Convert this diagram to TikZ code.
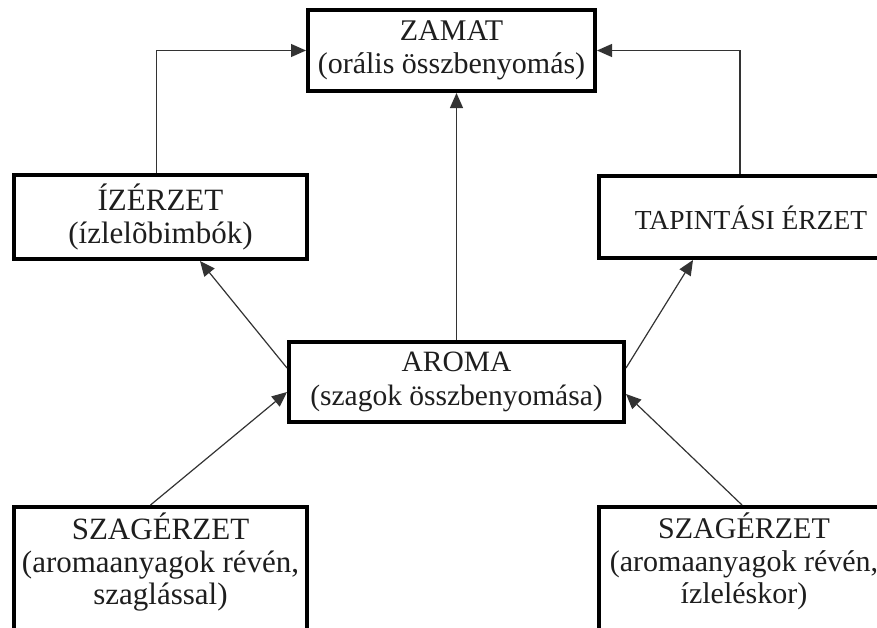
\documentclass[tikz,border=0pt]{standalone}
\usepackage{fontspec}
\setmainfont{Liberation Serif}
\usetikzlibrary{arrows.meta,calc}
\definecolor{inkc}{HTML}{1E1E1E}
\begin{document}
\begin{tikzpicture}[x=1pt,y=-1pt,
  boxnode/.style={draw=black, line width=4pt, fill=white, rectangle, anchor=north west, inner sep=0pt,
    align=center, text=inkc, font=\fontsize{30}{33.5}\selectfont},
  lbl/.style={inner sep=0pt, align=center, text=inkc, font=\fontsize{30}{32.5}\selectfont},
  conn/.style={line width=1.2pt, draw=black!80},
  arr/.style={conn, -{Triangle[length=15pt,width=13pt]}}
]
\useasboundingbox (0,0) rectangle (877,627);
\node[boxnode, minimum width=287pt, minimum height=81pt] (zamat) at (306,8) {ZAMAT\\(orális összbenyomás)};
\node[boxnode, minimum width=293pt, minimum height=84pt, font=\fontsize{31}{33.5}\selectfont] (iz) at (12,173) {ÍZÉRZET\\(ízlelõbimbók)};
\node[boxnode, minimum width=290pt, minimum height=82pt] (tap) at (597,174) {};
\node[lbl, font=\fontsize{27.5}{30}\selectfont] (tapt) at ([xshift=7pt,yshift=-1pt]tap.center) {TAPINTÁSI ÉRZET};
\node[boxnode, minimum width=335pt, minimum height=80pt, font=\fontsize{29.5}{33.5}\selectfont] (aroma) at (287,340) {AROMA\\(szagok összbenyomása)};
\node[boxnode, minimum width=293pt, minimum height=160pt] (sl) at (12,505) {};
\node[boxnode, minimum width=290pt, minimum height=160pt] (sr) at (597,505) {};
\node[lbl, anchor=north, font=\fontsize{31}{32.5}\selectfont] (slt) at ([yshift=-8pt]sl.north) {SZAGÉRZET\\(aromaanyagok révén,\\szaglással)};
\node[lbl, anchor=north] (srt) at ([yshift=-8pt]sr.north) {SZAGÉRZET\\(aromaanyagok révén,\\ízleléskor)};
% connectors
\draw[arr] ([xshift=-4pt]iz.north) |- (zamat.west);
\draw[arr] ([xshift=-4pt]tap.north) |- (zamat.east);
\draw[arr] (aroma.north) -- (aroma.north |- zamat.south);
\draw[arr] ([yshift=-28pt]aroma.north west) -- ([xshift=188pt]iz.south west);
\draw[arr] ([yshift=-28pt]aroma.north east) -- ([xshift=96pt]tap.south west);
\draw[arr] ([xshift=-10pt]sl.north) -- ([yshift=-52pt]aroma.north west);
\draw[arr] ([xshift=-2pt]sr.north) -- ([yshift=-54pt]aroma.north east);
\end{tikzpicture}
\end{document}
